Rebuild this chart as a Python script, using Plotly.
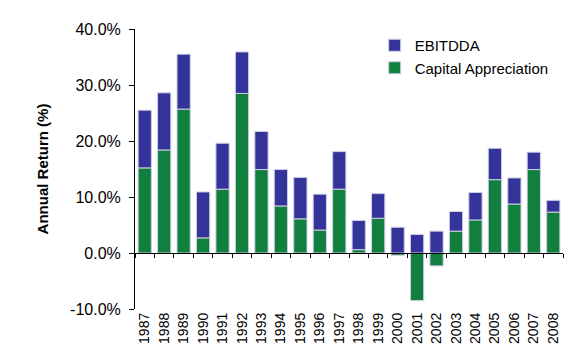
import plotly.graph_objects as go

years = [str(y) for y in range(1987, 2009)]
capital_appreciation = [15.2, 18.4, 25.7, 2.7, 11.4, 28.5, 14.9, 8.4, 6.1, 4.1, 11.4,
                        0.6, 6.2, -0.4, -8.5, -2.3, 3.9, 5.9, 13.1, 8.75, 14.9, 7.3]
total_return = [25.5, 28.6, 35.5, 10.9, 19.6, 35.9, 21.7, 14.9, 13.5, 10.5, 18.1,
                5.8, 10.6, 4.6, 3.3, 3.9, 7.4, 10.8, 18.7, 13.4, 18.0, 9.4]
ebitdda = [round(t - max(c, 0), 2) for t, c in zip(total_return, capital_appreciation)]
y_tick_values = [-10, 0, 10, 20, 30, 40]
y_tick_labels = ["-10.0%", "0.0%", "10.0%", "20.0%", "30.0%", "40.0%"]

blue = "#333399"
green = "#11803F"
edge = "rgba(205,205,228,1)"
font_family = "Liberation Sans, Arial, sans-serif"

fig = go.Figure()
fig.add_trace(go.Bar(x=years, y=capital_appreciation, name="Capital Appreciation",
                     marker=dict(color=green, line=dict(color=edge, width=1)),
                     xaxis="x2"))
fig.add_trace(go.Bar(x=years, y=ebitdda, name="EBITDDA",
                     marker=dict(color=blue, line=dict(color=edge, width=1)),
                     xaxis="x2"))
# invisible helper trace to give the zero-line axis its categories
fig.add_trace(go.Scatter(x=years, y=[0] * len(years), mode="markers",
                         marker=dict(opacity=0), showlegend=False, hoverinfo="skip",
                         xaxis="x"))

fig.update_layout(
    width=576, height=360,
    margin=dict(l=127, r=21, t=21, b=59),
    paper_bgcolor="white", plot_bgcolor="white",
    barmode="relative", bargap=0.32,
    font=dict(family=font_family, color="black", size=15),
    showlegend=True,
    legend=dict(x=0.56, y=1.0, xanchor="left", yanchor="top",
                traceorder="reversed", font=dict(size=15),
                bgcolor="rgba(0,0,0,0)", itemwidth=30, tracegroupgap=0),
    xaxis=dict(anchor="free", position=0.2, showline=True, linecolor="black",
               linewidth=1, ticks="outside", ticklen=4, tickcolor="black",
               tickson="boundaries", showticklabels=False, showgrid=False,
               type="category", categoryorder="array", categoryarray=years,
               range=[-0.5, len(years) - 0.5]),
    xaxis2=dict(overlaying="x", anchor="y", side="bottom", showline=False,
                ticks="", showgrid=False, tickangle=-90,
                tickfont=dict(size=14), type="category",
                categoryorder="array", categoryarray=years,
                range=[-0.5, len(years) - 0.5]),
    yaxis=dict(range=[-10, 40], tickmode="array", tickvals=y_tick_values,
               ticktext=y_tick_labels, showline=True,
               linecolor="black", linewidth=1, ticks="outside", ticklen=5,
               tickcolor="black", showgrid=False, zeroline=False,
               tickfont=dict(size=16), ticklabelstandoff=5,
               title=dict(text="<b>Annual Return (%)</b>", font=dict(size=15),
                          standoff=17)),
)

fig.write_html("out.html")
